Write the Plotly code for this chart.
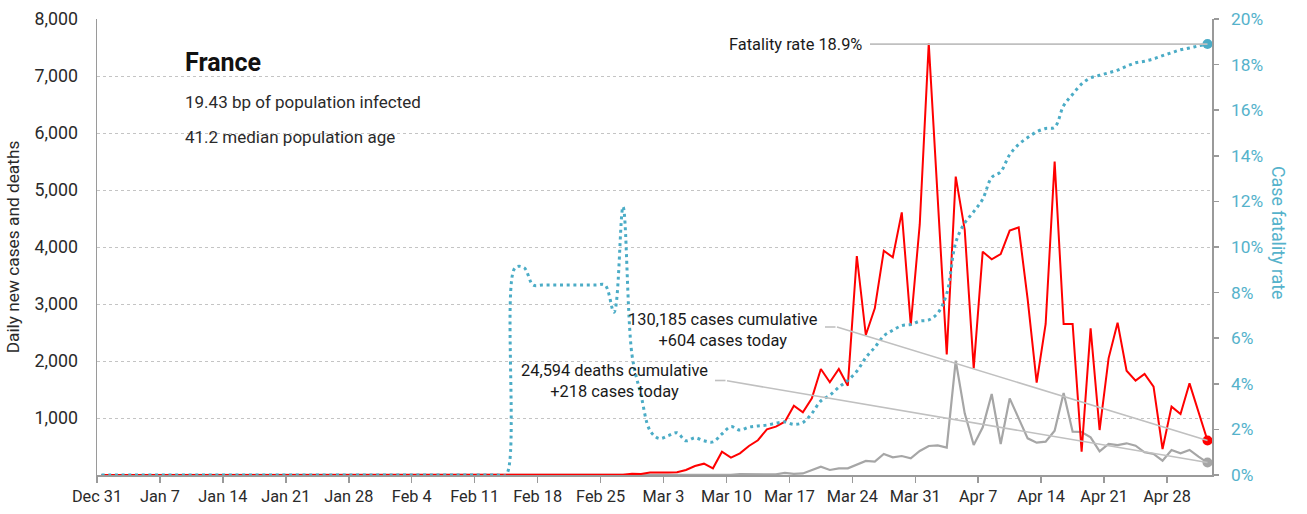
import pandas as pd
import plotly.graph_objects as go

# ---------------- data (Dec 31 2019 -> May 2 2020, daily) ----------------
start_date = "2019-12-31"

daily_cases = [
    0, 0, 0, 0, 0, 0, 0, 0, 0, 0, 0, 0, 0, 0, 0, 0, 0, 0, 0, 0, 0, 0, 0, 0, 0,   # Dec 31 - Jan 24
    3, 0, 0, 0, 1, 1, 0,                                                          # Jan 25 - Jan 31
    1, 0, 0, 0, 0, 0, 0, 0, 5, 0, 0, 1, 0, 0, 0, 0, 0, 0, 0, 0, 0, 0, 0, 0, 0,   # Feb 1 - Feb 25
    2, 3, 21, 19,                                                                 # Feb 26 - Feb 29
    43, 40, 45, 50, 88, 158, 199, 117, 409, 304, 380, 509, 610, 801, 848, 936,
    1216, 1100, 1345, 1860, 1626, 1860, 1567, 3842, 2456, 2924, 3935, 3819, 4608,
    2632, 4400,                                                                   # Mar
    7573, 4860, 2117, 5234, 4300, 1871, 3918, 3784, 3877, 4287, 4345, 3080, 1620,
    2649, 5497, 2649, 2649, 409, 2573, 789, 2047, 2673, 1830, 1655, 1772, 1550,
    456, 1199, 1070, 1608,                                                        # Apr
    1110, 604,                                                                    # May 1 - May 2
]

daily_deaths = [
    0, 0, 0, 0, 0, 0, 0, 0, 0, 0, 0, 0, 0, 0, 0, 0, 0, 0, 0, 0, 0, 0, 0, 0, 0,   # Dec 31 - Jan 24
    0, 0, 0, 0, 0, 0, 0,                                                          # Jan 25 - Jan 31
    0, 0, 0, 0, 0, 0, 0, 0, 0, 0, 0, 0, 0, 0, 1, 0, 0, 0, 0, 0, 0, 0, 0, 0, 0,   # Feb 1 - Feb 25
    1, 0, 0, 0,                                                                   # Feb 26 - Feb 29
    0, 1, 1, 0, 0, 2, 3, 2, 10, 3, 15, 15, 13, 18, 12, 36, 21, 27, 88, 146, 88,
    117, 117, 187, 246, 234, 368, 310, 333, 292, 421,                             # Mar
    509, 520, 480, 2007, 1082, 526, 837, 1421, 544, 1345, 994, 643, 567, 585, 778,
    1440, 760, 755, 661, 415, 544, 526, 556, 515, 398, 369, 252, 439, 380, 439,   # Apr
    322, 218,                                                                     # May 1 - May 2
]

case_fatality_pct = [
    0, 0, 0, 0, 0, 0, 0, 0, 0, 0, 0, 0, 0, 0, 0, 0, 0, 0, 0, 0, 0, 0, 0, 0, 0,   # Dec 31 - Jan 24
    0, 0, 0, 0, 0, 0, 0,                                                          # Jan 25 - Jan 31
    0, 0, 0, 0, 0, 0, 0, 0, 0, 0, 0, 0, 0, 0, 9.09, 9.09, 8.33, 8.33, 8.33, 8.33,
    8.33, 8.33, 8.33, 8.33, 8.33,                                                 # Feb 1 - Feb 25
    7.14, 11.76, 5.26, 3.5,                                                       # Feb 26 - Feb 29
    1.95, 1.6, 1.72, 1.85, 1.5, 1.63, 1.5, 1.45, 1.8, 2.12, 1.97, 2.1, 2.15, 2.19,
    2.27, 2.33, 2.22, 2.3, 2.7, 3.25, 3.5, 3.85, 4.15, 4.55, 5.15, 5.6, 6.1, 6.35,
    6.55, 6.6, 6.75,                                                              # Mar
    6.8, 7.1, 7.95, 10.2, 11.05, 11.55, 12.1, 13.05, 13.3, 14.05, 14.5, 14.8,
    15.05, 15.2, 15.25, 16.2, 16.7, 17.15, 17.42, 17.53, 17.64, 17.76, 17.93,
    18.08, 18.15, 18.25, 18.39, 18.52, 18.65, 18.73,                              # Apr
    18.82, 18.9,                                                                  # May 1 - May 2
]

left_tick_values = [1000, 2000, 3000, 4000, 5000, 6000, 7000, 8000]
right_tick_values = [0, 2, 4, 6, 8, 10, 12, 14, 16, 18, 20]
right_tick_labels = ["0%", "2%", "4%", "6%", "8%", "10%", "12%", "14%", "16%", "18%", "20%"]

country = "France"
info_lines = ["19.43 bp of population infected", "41.2 median population age"]
fatality_label = "Fatality rate 18.9%"
cases_label = "130,185 cases cumulative<br>+604 cases today"
deaths_label = "24,594 deaths cumulative<br>+218 cases today"

# ---------------- styling ----------------
FONT = "Roboto, Liberation Sans Narrow, Arial Narrow, sans-serif"
RED = "#ff0000"
GRAY = "#a6a6a6"
TEAL = "#4bacc6"
TEAL_TXT = "#55b2cb"
LEADER = "#c0c0c0"
AXIS = "#9a9a9a"
TXT = "#2a2a2a"

W, H = 1307, 514
L, R, T, B = 97, 95, 19, 39
PW, PH = W - L - R, H - T - B


def px(xp):
    return (xp - L) / PW


def py(yp):
    return (T + PH - yp) / PH


dates = pd.date_range(start_date, periods=len(daily_cases), freq="D") + pd.Timedelta(hours=12)
x_end = pd.Timestamp(start_date) + pd.Timedelta(days=len(daily_cases))

fig = go.Figure()

fig.add_trace(go.Scatter(
    x=dates, y=case_fatality_pct, yaxis="y2", mode="lines",
    line=dict(color=TEAL, width=3, dash="3px,3.7px", shape="spline", smoothing=1),
    hoverinfo="skip", showlegend=False))
fig.add_trace(go.Scatter(
    x=dates, y=daily_deaths, mode="lines",
    line=dict(color=GRAY, width=2.2), showlegend=False))
fig.add_trace(go.Scatter(
    x=dates, y=daily_cases, mode="lines",
    line=dict(color=RED, width=2), showlegend=False))

# end markers
fig.add_trace(go.Scatter(x=[dates[-1]], y=[daily_cases[-1]], mode="markers",
                         marker=dict(color=RED, size=10), showlegend=False))
fig.add_trace(go.Scatter(x=[dates[-1]], y=[daily_deaths[-1]], mode="markers",
                         marker=dict(color=GRAY, size=10), showlegend=False))
fig.add_trace(go.Scatter(x=[dates[-1]], y=[case_fatality_pct[-1]], yaxis="y2", mode="markers",
                         marker=dict(color=TEAL, size=10), showlegend=False))

annotations = [
    dict(text=f"<b>{country}</b>", x=px(183), y=py(62), xref="paper", yref="paper",
         xanchor="left", yanchor="middle", showarrow=False,
         font=dict(family=FONT, size=25, color="#111")),
    dict(text=info_lines[0], x=px(183), y=py(102), xref="paper", yref="paper",
         xanchor="left", yanchor="middle", showarrow=False,
         font=dict(family=FONT, size=17, color=TXT)),
    dict(text=info_lines[1], x=px(183), y=py(137), xref="paper", yref="paper",
         xanchor="left", yanchor="middle", showarrow=False,
         font=dict(family=FONT, size=17, color=TXT)),
    dict(text=fatality_label, x=px(864), y=py(44), xref="paper", yref="paper",
         xanchor="right", yanchor="middle", showarrow=False,
         font=dict(family=FONT, size=16.4, color="#1a1a1a")),
    dict(text=cases_label, x=px(723), y=py(329.5), xref="paper", yref="paper",
         xanchor="center", yanchor="middle", align="center", showarrow=False,
         font=dict(family=FONT, size=16.4, color="#1a1a1a")),
    dict(text=deaths_label, x=px(614), y=py(380.5), xref="paper", yref="paper",
         xanchor="center", yanchor="middle", align="center", showarrow=False,
         font=dict(family=FONT, size=16.4, color="#1a1a1a")),
    dict(text="Case fatality rate", x=px(1279), y=py(233), xref="paper", yref="paper",
         xanchor="center", yanchor="middle", textangle=90, showarrow=False,
         font=dict(family=FONT, size=17.8, color=TEAL_TXT)),
    # leader lines ending on the last data points
    dict(text="", x=dates[-1], y=case_fatality_pct[-1], xref="x", yref="y2",
         ax=-339, ay=0, showarrow=True, arrowhead=0, arrowwidth=1.6, arrowcolor=LEADER,
         standoff=0),
    dict(text="", x=dates[-1], y=daily_cases[-1], xref="x", yref="y",
         ax=-372, ay=-114, showarrow=True, arrowhead=0, arrowwidth=1.6, arrowcolor=LEADER,
         standoff=0),
    dict(text="", x=dates[-1], y=daily_deaths[-1], xref="x", yref="y",
         ax=-482, ay=-82, showarrow=True, arrowhead=0, arrowwidth=1.6, arrowcolor=LEADER,
         standoff=0),
]

shapes = [
    dict(type="line", xref="paper", yref="paper", x0=px(825), x1=px(835.5),
         y0=py(327), y1=py(327), line=dict(color=LEADER, width=1.6)),
    dict(type="line", xref="paper", yref="paper", x0=px(715), x1=px(725.5),
         y0=py(380.5), y1=py(380.5), line=dict(color=LEADER, width=1.6)),
]

fig.update_layout(
    width=W, height=H,
    margin=dict(l=L, r=R, t=T, b=B, autoexpand=False),
    paper_bgcolor="white", plot_bgcolor="white",
    font=dict(family=FONT, size=17, color=TXT),
    showlegend=False,
    hovermode=False,
    annotations=annotations,
    shapes=shapes,
    xaxis=dict(
        type="date", range=[pd.Timestamp(start_date), x_end],
        tick0=pd.Timestamp(start_date), dtick=7 * 86400000, tickformat="%b %-d",
        tickangle=0,
        ticks="outside", ticklen=6, tickwidth=1.5, tickcolor=AXIS,
        showline=True, linecolor=AXIS, linewidth=1.5,
        showgrid=False, zeroline=False,
        tickfont=dict(family=FONT, size=16.3, color=TXT),
        automargin=False,
    ),
    yaxis=dict(
        range=[0, 8000], tickvals=left_tick_values, tickformat=",",
        showgrid=True, gridcolor="#c4c4c4", griddash="dot", gridwidth=1,
        showline=True, linecolor=AXIS, linewidth=1.5,
        ticks="", zeroline=False, ticklabelstandoff=14,
        tickfont=dict(family=FONT, size=17.8, color=TXT),
        title=dict(text="Daily new cases and deaths", standoff=10,
                   font=dict(family=FONT, size=17.3, color=TXT)),
        automargin=False,
    ),
    yaxis2=dict(
        overlaying="y", side="right", range=[0, 20],
        tickvals=right_tick_values, ticktext=right_tick_labels,
        showgrid=False, zeroline=False,
        showline=True, linecolor=AXIS, linewidth=1.5,
        ticks="outside", ticklen=5, tickwidth=1.5, tickcolor=AXIS,
        ticklabelstandoff=9,
        tickfont=dict(family=FONT, size=17.3, color=TEAL_TXT),
        automargin=False,
    ),
)

fig.write_html("out.html", config={"displayModeBar": False, "staticPlot": True},
               post_script="document.body.style.margin='0';")
